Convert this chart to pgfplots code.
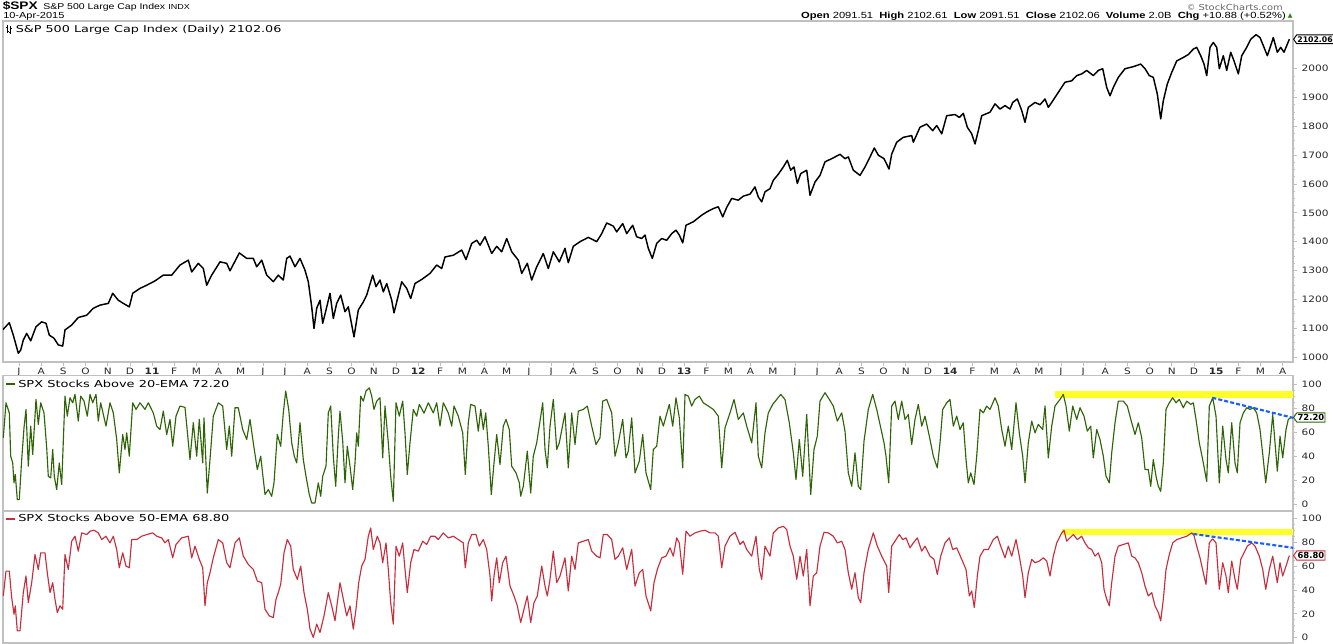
\documentclass[border=0pt]{standalone}
\usepackage{fontspec}
\setmainfont[FakeStretch=1.25]{Liberation Sans}
\newfontfamily\vf[FakeStretch=1.2]{DejaVu Sans}
\newfontfamily\lf[FakeStretch=1.35]{DejaVu Sans}
\newfontfamily\symf{DejaVu Sans}
\usepackage{pgfplots}
\pgfplotsset{compat=1.18}
\usetikzlibrary{shapes.symbols}
\definecolor{emagreen}{RGB}{45,100,5}
\definecolor{emared}{RGB}{200,45,60}
\definecolor{hilite}{RGB}{255,255,40}
\definecolor{trendblue}{RGB}{25,95,255}
\definecolor{frame}{RGB}{192,192,192}
\definecolor{lbl}{RGB}{40,40,40}
\pgfplotsset{panel/.style={
  scale only axis, width=967.5pt, xmin=3, xmax=1293,
  axis line style={frame, line width=0.9pt},
  ytick pos=right, yticklabel pos=right,
  tick align=outside,
  major tick length=3pt, minor tick length=1.6pt,
  every tick/.style={frame, line width=0.6pt},
  minor y tick num=3,
  yticklabel style={font=\vf\fontsize{6.6}{7}\selectfont, text=lbl, /pgf/number format/assume math mode=true, /pgf/number format/1000 sep={}},
  clip mode=individual,
  axis background/.style={fill=white},
}}
\tikzset{valbox/.style={signal, signal to=west, signal pointer angle=110, line width=0.7pt, fill=white, inner xsep=0.6pt, inner ysep=1.1pt, anchor=west, font=\symf\bfseries\fontsize{6.3}{7}\selectfont}}
\begin{document}
\begin{tikzpicture}
\path[use as bounding box] (0,0) rectangle (999.75pt,-482.25pt);
% ---------------- top panel ----------------
\begin{axis}[panel, at={(2.25pt,-15.75pt)}, anchor=north west, height=255.75pt,
  ymin=982.7, ymax=2165.4, ytick={1000,1100,...,2000},
  xtick pos=bottom,
  xtick={19,41.2,63.3,85.5,107.7,129.9,152.0,174.2,196.4,218.5,240.7,262.9,285.0,307.2,329.4,351.6,373.7,395.9,418.1,440.2,462.4,484.6,506.7,528.9,551.1,573.3,595.4,617.6,639.8,661.9,684.1,706.3,728.4,750.6,772.8,795.0,817.1,839.3,861.5,883.6,905.8,928.0,950.1,972.3,994.5,1016.7,1038.8,1061.0,1083.2,1105.3,1127.5,1149.7,1171.8,1194.0,1216.2,1238.4,1260.5,1282.7},
  xticklabels={J,A,S,O,N,D,\textbf{11},F,M,A,M,J,J,A,S,O,N,D,\textbf{12},F,M,A,M,J,J,A,S,O,N,D,\textbf{13},F,M,A,M,J,J,A,S,O,N,D,\textbf{14},F,M,A,M,J,J,A,S,O,N,D,\textbf{15},F,M,A},
  xticklabel style={font=\vf\fontsize{6.6}{7}\selectfont, text=lbl, inner sep=1pt, yshift=-0.5pt},
]
\addplot[black, line width=1.1pt, line join=round] coordinates {
(3,1095)(4,1099)(9.3,1119)(13.3,1076)(18.3,1013)(20.7,1024)(23.3,1059)(26.7,1082)(30.7,1056)(36,1105)(41.7,1122)(46,1117)(49.3,1076)(54,1065)(58.3,1042)(62.7,1038)(65,1094)(71.7,1111)(78.3,1137)(86.7,1145)(93.3,1169)(100,1180)(108.3,1186)(112.7,1221)(118.3,1197)(123.3,1186)(129.3,1174)(132.7,1221)(140,1238)(146.7,1249)(155,1264)(163.3,1284)(171.7,1284)(180,1319)(188.3,1336)(191.7,1295)(198.3,1325)(203.3,1307)(206.7,1249)(211.7,1284)(220,1330)(226.7,1325)(230,1299)(239.3,1361)(246.7,1342)(253.3,1342)(256.7,1313)(261.7,1336)(266.7,1284)(273.3,1261)(278.3,1284)(283.3,1267)(286.7,1342)(290,1350)(295,1313)(300,1342)(305,1301)(308.3,1261)(311.7,1174)(314,1099)(316.7,1169)(320,1197)(322.7,1117)(326,1163)(330,1221)(333.3,1134)(336.7,1186)(340.7,1215)(345,1157)(348.3,1174)(354,1070)(358.3,1163)(363.3,1191)(366.7,1215)(372.7,1284)(376,1244)(380,1267)(383.3,1226)(386.7,1255)(391.7,1197)(394,1153)(396.7,1191)(401.7,1261)(406.7,1238)(410.7,1203)(415,1255)(421.7,1269)(430,1290)(436.7,1319)(441.7,1307)(445,1347)(453.3,1353)(461.7,1371)(466,1338)(471.7,1394)(476.7,1405)(480,1388)(485,1417)(491.7,1359)(496.7,1384)(501.7,1365)(506.7,1411)(511.7,1365)(518.3,1336)(521.7,1290)(527.3,1325)(531.7,1267)(536.7,1313)(543.3,1359)(548.3,1307)(553.3,1365)(559.3,1330)(565,1377)(568.3,1327)(573.3,1384)(580,1400)(588.3,1415)(596.7,1400)(601.7,1428)(606.7,1465)(613.3,1454)(616.7,1434)(622.7,1463)(626.7,1428)(632.7,1457)(636.7,1417)(641.7,1411)(645,1423)(648.3,1377)(652.3,1342)(656.7,1394)(661.7,1411)(666.7,1405)(671.7,1428)(676,1440)(679.3,1423)(682.7,1396)(686,1457)(693.3,1469)(701.7,1492)(706.7,1503)(713.3,1515)(718.3,1521)(722.7,1486)(726.7,1519)(731.7,1550)(738.3,1544)(743.3,1558)(750,1565)(755,1590)(758.3,1555)(761.7,1538)(765,1573)(770,1584)(773.3,1613)(778.3,1634)(783.3,1659)(787.3,1682)(790.7,1648)(794,1659)(797.3,1602)(800.7,1636)(806.7,1648)(810,1561)(815,1607)(820,1630)(825,1677)(831.7,1688)(840,1703)(845,1688)(848.3,1694)(853.3,1648)(860,1630)(865,1659)(870,1694)(874.3,1725)(878.3,1700)(884,1688)(889,1652)(891.7,1704)(896.7,1745)(903.3,1762)(911.7,1768)(913.3,1745)(920,1797)(926.7,1808)(932.7,1785)(936.7,1803)(941.7,1774)(946.7,1837)(955,1841)(959.3,1831)(963.3,1845)(967.3,1797)(971.7,1774)(975,1739)(978.3,1785)(981.7,1837)(990,1849)(995,1878)(1000,1860)(1005,1872)(1010,1860)(1012.7,1883)(1017.3,1895)(1021.7,1855)(1025,1814)(1028.3,1866)(1035,1883)(1040,1875)(1045,1895)(1048.3,1866)(1051.7,1883)(1058.3,1918)(1065,1953)(1071.7,1958)(1076.7,1976)(1081.7,1982)(1086.7,1994)(1093.3,1976)(1098.3,1994)(1102.7,2000)(1106.7,1935)(1110,1906)(1113.3,1935)(1118.3,1970)(1125,2000)(1133.3,2007)(1140.7,2016)(1145,2000)(1149.3,1976)(1153.3,1970)(1157.3,1912)(1160.7,1826)(1163.3,1889)(1167.3,1947)(1171.7,1987)(1176.7,2027)(1183.3,2039)(1188.3,2049)(1193.3,2068)(1196.7,2074)(1200.7,2045)(1204,2016)(1206.7,1976)(1210,2074)(1213.3,2091)(1216.7,2074)(1219.3,2000)(1223.3,2045)(1226.7,1994)(1230.7,2057)(1234,2027)(1238.3,1982)(1241.7,2045)(1246.7,2074)(1250.7,2102)(1256,2118)(1260,2108)(1263.3,2080)(1267.3,2045)(1270.7,2080)(1273.3,2108)(1277.3,2057)(1280.7,2074)(1284,2057)(1289.3,2102.06)
};
\node[valbox, draw=black, font=\symf\bfseries\fontsize{5.8}{6}\selectfont] at (axis cs:1293,2102.06) {2102.06};
\end{axis}
% ---------------- middle panel ----------------
\begin{axis}[panel, at={(2.25pt,-281.625pt)}, anchor=north west, height=101.625pt,
  ymin=-5.6, ymax=107.1, ytick={0,20,...,100}, xtick=\empty]
\fill[hilite] (axis cs:1055,88.6) rectangle (axis cs:1293,94.2);
\addplot[emagreen, line width=0.85pt, line join=round] coordinates {
(3.3,55.3)(6,84.4)(9.3,76)(10.7,40)(12.7,34.4)(14,17.8)(15.3,24.7)(17.3,3.9)(19.3,3.9)(21.7,37.2)(24,63.6)(26,78.9)(28.3,31.7)(30.7,65)(32.7,41.4)(36,87.2)(38.3,66.4)(40.7,84.4)(44,76)(46.7,46.9)(48.3,23.3)(50.7,21.9)(52.7,45.6)(54.3,23.3)(56.7,12.2)(59.3,34.4)(61.7,16.4)(65,90)(67.3,73.3)(70,88.6)(72.7,84.4)(75,91.4)(78.3,69.2)(80.7,90)(84,85.8)(87.3,73.3)(90,91.4)(92.7,84.4)(96,91.4)(98.3,69.2)(100.7,84.4)(106,65)(110,84.4)(113.3,76)(116.7,53.9)(119.3,26.1)(122.7,58)(125,45.6)(126.7,59.4)(129.3,40)(132.7,84.4)(136,78.9)(140,84.4)(145,78.9)(148.3,84.4)(153.3,76)(156.7,65)(160,62.2)(163.3,77.5)(166.7,58)(170,70.6)(172.7,48.3)(176,73.3)(180,81.7)(185,80.6)(190,37.2)(193.3,67.8)(196.7,40)(199.3,70.6)(202.7,34.4)(204,71.9)(207.3,9.4)(210,37.2)(213.3,73.3)(218.3,84.4)(222.7,81.7)(226.7,45.6)(229.3,65)(231.7,40)(235,80.3)(238.3,80.3)(242.7,62.2)(246.7,53.9)(250,70.6)(253.3,51.1)(257.3,28.9)(260.7,40)(265,8.1)(268.3,12.2)(271.7,6.7)(274,17.8)(277.3,58)(280.7,48.3)(283.3,76)(285.7,94.2)(288.7,78.9)(291.7,51.1)(294.3,40)(296.7,34.4)(300,67.8)(303.3,37.2)(306,23.3)(309.3,8.1)(311.7,1.1)(315,1.1)(318.3,17.8)(320.7,6.7)(322.7,23.3)(326,31.7)(328.3,76)(330.7,81.7)(333.3,40)(335.7,15)(338.3,56.7)(340,77.5)(342.7,52.5)(345,17.8)(347.3,48.3)(350,31.7)(352.7,12.2)(355,34.4)(356.7,59.4)(358.3,48.3)(360.7,90)(363.3,85.8)(366,94.2)(369.3,96.9)(371.7,90)(374,78.9)(376.7,85.8)(380,88.6)(382.7,38.6)(385,81.7)(388.3,51.1)(390.7,23.3)(393.3,2.5)(396,84.4)(399.3,73.3)(402.7,85.8)(405,59.4)(407.3,24.7)(410,51.1)(413.3,78.9)(416.7,73.3)(419.3,83.1)(424,75.8)(428.3,84.4)(433.3,76)(436.7,84.4)(440,65)(443.3,84.4)(448.3,76)(451.7,65)(454,81.7)(458.3,73.3)(462.7,59.4)(465.3,24.7)(468.3,67.8)(470.7,83.1)(475,81.7)(478.3,60.8)(480.7,78.9)(483.3,62.2)(485.7,76)(488.3,48.3)(491.3,8.1)(494,34.4)(496.7,58)(500,33)(503.3,65)(506,70.6)(509.3,62.2)(511.7,31.7)(516,26.1)(519.3,17.8)(520.7,6.7)(523.3,15)(527.3,44.2)(530.7,9.4)(533.3,40)(536.7,51.1)(540,69.2)(542.7,84.4)(545,45.6)(547.3,30.3)(550,65)(553.3,87.2)(556.7,45.6)(559.3,51.1)(565,76)(568.3,30.3)(571.7,76)(575,49.7)(578.3,77.5)(583.3,78.9)(587.3,81.7)(591.7,65)(596,49.7)(600,55.3)(602.7,85.8)(606.7,87.2)(611.7,76)(615,40)(618.3,51.1)(622.7,70.6)(626,38.6)(628.3,44.2)(631.7,71.9)(635,26.1)(639.3,35.8)(642.7,58)(646,26.1)(650.7,12.2)(653.3,45.6)(656.7,48.3)(660,73.3)(663.3,65)(669.3,83.1)(672.7,65)(676,88.6)(679.3,71.9)(682.7,30.3)(685,91.4)(688.3,90)(691.7,81.7)(695,87.2)(699.3,90)(703.3,84.4)(708.3,81.7)(713.3,78.9)(718.3,73.3)(721.7,30.3)(725,63.6)(730,76)(734,87.2)(738.3,70.6)(743.3,76)(746.7,65)(751.7,51.1)(756,84.4)(758.3,40)(761.7,30.3)(765,59.4)(768.3,76)(772.7,83.1)(776.7,87.2)(780.7,91.4)(785,87.2)(789.3,67.8)(793.3,42.8)(796,20.6)(799.3,53.9)(802.7,23.3)(806.7,74.7)(810.7,8.1)(814,45.6)(817.3,56.7)(820,85.8)(825,92.8)(829.3,87.2)(833.3,81.7)(837.3,69.2)(841.7,76)(845,60.8)(848.3,26.1)(851.7,15)(855,42.8)(858.3,15)(860.7,12.2)(864,52.5)(868.3,78.9)(872.7,91.4)(876.7,78.9)(880,66.4)(884,51.1)(886,40)(888.7,17.8)(891.7,81.7)(895,85.8)(898.3,70.6)(901.7,85.8)(905,70.6)(908.3,74.7)(911.7,49.7)(915,70.6)(918.3,83.1)(921.7,65)(925,73.3)(929.3,56.7)(933.3,40)(937.3,30.3)(940,51.1)(942.7,78.9)(946.7,84.4)(950,87.2)(953.3,65)(956.7,73.3)(960,62.2)(963.3,67.8)(966,37.2)(968.3,17.8)(970.7,26.1)(974,16.4)(976.7,40)(980,78.9)(983.3,76)(986.7,81.7)(990,78.9)(995,88.6)(998.3,81.7)(1001.7,62.2)(1005,48.3)(1008.3,65)(1011.7,45.6)(1016,84.4)(1019.3,59.4)(1022.7,40)(1025,17.8)(1028.3,51.1)(1031.7,69.2)(1035,59.4)(1038.3,66.4)(1042.7,62.2)(1045,81.7)(1048.3,38.6)(1051.7,65)(1055,81.7)(1060,87.2)(1063.3,91.4)(1066,81.7)(1069.3,60.8)(1072.7,81.7)(1076.7,70.6)(1080,80.3)(1084,73.3)(1087.3,60.8)(1090.7,65)(1093.3,38.6)(1096.7,62.2)(1100,53.9)(1103.3,40)(1106,23.3)(1109.3,17.8)(1111.7,42.8)(1115,67.8)(1118.3,85.8)(1123.3,85.8)(1127.3,81.7)(1131.7,67.8)(1135,58)(1138.3,67.8)(1141.7,55.3)(1145,28.9)(1148.3,28.9)(1150.7,15)(1153.3,37.2)(1156,23.3)(1158.3,15)(1160.7,10.8)(1163.3,34.4)(1166,78.9)(1169.3,84.4)(1172.7,88.6)(1176,84.4)(1179.3,87.2)(1183.3,80.3)(1186.7,85.8)(1190.7,83.1)(1193.3,84.4)(1196,70.6)(1199.3,51.1)(1203.3,34.4)(1206.7,18.9)(1209.3,81.7)(1212.7,88.6)(1216,73.3)(1219.3,17.8)(1222.7,65)(1226,37.2)(1228.3,26.1)(1231.7,67.8)(1235,34.4)(1237.3,26.1)(1240,67.8)(1243.3,76)(1246.7,80.3)(1250,78.9)(1253.3,80.3)(1256.7,76)(1260,62.2)(1263.3,37.2)(1265.7,17.8)(1269.3,42.8)(1272.7,74.7)(1275,51.1)(1277.3,27.5)(1280,56.7)(1282.7,38.6)(1286,62.2)(1288.3,70.6)(1291,72.2)
};
\addplot[trendblue, line width=1.6pt, dash pattern=on 3pt off 1.6pt] coordinates {(1212.3,88.6)(1293,71.9)};
\node[valbox, draw=emagreen] at (axis cs:1293,72.2) {72.20};
\end{axis}
% ---------------- bottom panel ----------------
\begin{axis}[panel, at={(2.25pt,-383.25pt)}, anchor=north west, height=99pt,
  ymin=-4.4, ymax=106.1, ytick={0,20,...,100}, xtick=\empty]
\fill[hilite] (axis cs:1061.7,86.4) rectangle (axis cs:1293,91.4);
\addplot[emared, line width=0.85pt, line join=round] coordinates {
(3.3,35)(6,55.8)(9.3,55.8)(11.7,33.6)(14,19.7)(15.3,26.7)(17.3,5.8)(20,5.8)(23.3,37.8)(26,51.7)(28.3,29.4)(31.7,46.1)(35,69.7)(38.3,57.2)(40.7,71.1)(45,71.1)(47.3,54.4)(50,37.8)(52.7,46.1)(55,32.2)(57.3,21.1)(60,26.7)(62.7,23.9)(65,69.7)(68.3,57.2)(71.7,80.8)(75,85)(78.3,72.5)(81.7,87.8)(86.7,86.4)(90,89.2)(94,90)(98.3,87.8)(101.7,82.2)(106,85)(110,79.4)(113.3,85)(116.7,73.9)(119.3,58.6)(122.7,71.1)(126,60)(129.3,58.6)(131.7,82.2)(136.7,82.2)(141.7,85)(146.7,86.4)(152.7,87.8)(156.7,85)(161.7,83.6)(165,79.4)(168.3,82.2)(172.7,66.9)(176,78.1)(181.7,83.6)(188.3,85)(191.7,66.9)(195,76.7)(199.3,65.6)(202.7,58.6)(205,26.7)(207.3,46.1)(210,54.4)(213.3,66.9)(218.3,82.2)(222.7,79.4)(226.7,62.8)(230,58.6)(235,79.4)(239.3,83.6)(243.3,68.3)(248.3,61.4)(253.3,57.2)(257.3,47.5)(261.7,46.1)(265,23.9)(269.3,18.3)(273.3,16.9)(276,32.2)(278.3,37.8)(280.7,44.7)(284,71.1)(287.3,82.2)(290.7,76.7)(293.3,57.2)(297.3,48.9)(300.7,60)(304,37.8)(307.3,23.9)(310,7.2)(313.3,0.3)(316.7,11.4)(320,4.4)(324,18.3)(328.3,37.8)(331.7,26.7)(335,14.2)(337.3,29.4)(340,46.1)(342.7,35)(346.7,18.3)(350,26.7)(353.3,7.2)(356,23.9)(358.7,46.1)(361.7,60)(365,65.6)(368.3,85)(370.7,91.9)(373.3,73.9)(377.3,85)(380,79.4)(382.7,62.8)(386,79.4)(388.3,57.2)(390.7,29.4)(393.3,11.4)(396,76.7)(399.3,68.3)(402.7,79.4)(405,57.2)(407.3,37.8)(410.7,62.8)(414,73.9)(418.3,72.5)(422.7,80.8)(426.7,78.1)(430.7,85)(435,85)(438.3,82.2)(443.3,87.8)(448.3,83.6)(453.3,85)(458.3,82.2)(463.3,79.4)(465.3,58.6)(468.3,79.4)(471.7,86.4)(476,86.4)(479.3,76.7)(483.3,82.2)(486.7,73.9)(490,51.7)(491.7,30.8)(494,51.7)(496.7,66.9)(499.3,46.1)(502.7,62.8)(506,68.3)(510,43.3)(514,35)(517.3,26.7)(520.7,12.8)(524,23.9)(527.3,35)(530.7,12.8)(534,29.4)(537.3,35)(541.7,60)(545,43.3)(547.3,35)(550,48.9)(553.3,72.5)(556.7,46.1)(560,51.7)(565,66.9)(568.3,39.2)(571.7,68.3)(575,57.2)(578.3,79.4)(583.3,80.8)(588.3,82.2)(591.7,72.5)(596.7,68.3)(600,66.9)(603.3,86.4)(607.3,86.4)(611.7,82.2)(615,65.6)(618.3,68.3)(622.7,75.3)(626.7,57.2)(631.7,73.9)(635,43.3)(639.3,54.4)(642.7,57.2)(646,35)(650.7,22.5)(654,46.1)(657.3,57.2)(661.7,66.9)(666,68.3)(670,75.3)(673.3,68.3)(676.7,83.6)(679.3,79.4)(682.7,53.1)(686,89.2)(690,85)(695,87.8)(700,89.2)(705,90)(710,87.8)(715,87.8)(718.3,85)(721.7,58.6)(725,76.7)(730,85)(735,88.3)(740,78.1)(743.3,80.8)(746.7,73.9)(751.7,68.3)(756,85)(759.3,57.2)(761.7,48.9)(765,76.7)(770,68.3)(773.3,87.8)(778.3,91.9)(783.3,93.3)(786.7,90.6)(790,76.7)(793.3,68.3)(796.7,48.9)(800,68.3)(803.3,51.7)(806.7,73.9)(810,26.7)(813.3,51.7)(816.7,54.4)(820,76.7)(824,88.3)(828.3,87.8)(833.3,85)(837.3,79.4)(841.7,80.8)(845,73.9)(848.3,54.4)(851.7,40.6)(855,54.4)(858.3,33.6)(860.7,29.4)(864,54.4)(868.3,73.9)(873.3,87.8)(877.3,76.7)(881.7,68.3)(885,62.8)(886.7,60)(888.7,37.8)(891.7,76.7)(896,82.2)(899.3,86.4)(902.7,82.2)(906,83.6)(910,75.3)(913.3,79.4)(917.3,83.6)(921.7,72.5)(925,76.7)(930,68.3)(934,65.6)(937.3,53.1)(940.7,68.3)(945,79.4)(949.3,83.6)(952.7,73.9)(956.7,75.3)(961.7,65.6)(966,57.2)(969.3,35)(971.7,39.2)(974.3,25.3)(977.3,51.7)(980,68.3)(984,73.9)(988.3,73.9)(993.3,82.2)(997.3,85)(1000.7,76.7)(1005,66.9)(1008.3,76.7)(1011.7,68.3)(1016,82.2)(1019.3,68.3)(1022.7,51.7)(1025,33.6)(1028.3,54.4)(1031.7,65.6)(1035,62.8)(1039.3,64.2)(1043.3,66.9)(1046.7,64.2)(1050,51.7)(1053.3,68.3)(1056.7,79.4)(1061.7,87.8)(1064,90)(1066.7,80.8)(1070,83.6)(1073.3,86.4)(1077.3,82.2)(1081.7,85)(1085,79.4)(1088.3,75.3)(1091.7,73.9)(1095,68.3)(1098.3,71.1)(1101.7,62.8)(1104,40.6)(1106.7,32.2)(1109.3,26.7)(1111.7,46.1)(1115,68.3)(1118.3,76.7)(1123.3,78.1)(1128.3,79.4)(1131.7,68.3)(1135,66.9)(1138.3,62.8)(1141.7,54.4)(1145,43.3)(1148.3,35)(1151.7,37.8)(1155,26.7)(1158.3,21.1)(1160.7,14.2)(1163.3,32.2)(1166,57.2)(1169.3,69.7)(1172.7,79.4)(1176.7,82.2)(1181.7,83.6)(1186.7,85)(1191.7,87.8)(1194,85.6)(1196.7,76.7)(1200,66.9)(1203.3,54.4)(1206,44.7)(1209.3,79.4)(1212.7,82.8)(1216,79.4)(1219.3,40.6)(1222.7,62.8)(1226,51.7)(1228.3,37.8)(1231.7,64.2)(1235,48.9)(1237.3,40.6)(1240.7,65.6)(1244,71.1)(1247.3,76.7)(1251.7,79.4)(1255,76.7)(1259.3,68.3)(1262.7,57.2)(1265.7,40.6)(1269.3,57.2)(1272.7,68.3)(1275,57.2)(1277.3,46.1)(1280,62.8)(1282.7,51.7)(1286,60)(1289.3,68.8)
};
\addplot[trendblue, line width=1.6pt, dash pattern=on 3pt off 1.6pt] coordinates {(1193.3,86.9)(1293,75.3)};
\node[valbox, draw=emared] at (axis cs:1293,68.8) {68.80};
\end{axis}
% ---------------- header and legends (pixel coordinates) ----------------
\begin{scope}[x=0.75pt, y=-0.75pt]
\node[anchor=base west, inner sep=0pt, font=\bfseries\fontsize{8.2}{9}\selectfont] at (2.5,9.3) {\$SPX};
\node[anchor=base west, inner sep=0pt, font=\fontsize{6.3}{7}\selectfont] at (43,9.3) {S\&P 500 Large Cap Index};
\node[anchor=base west, inner sep=0pt, font=\fontsize{5.4}{6}\selectfont] at (168,9.3) {INDX};
\node[anchor=base west, inner sep=0pt, font=\fontsize{6.6}{7}\selectfont] at (3,18.3) {10-Apr-2015};
\node[anchor=base east, inner sep=0pt, text=black!60, font=\vf\fontsize{6.2}{7}\selectfont] at (1283,10.3) {\symf\char"00A9\vf{} StockCharts.com};
\node[anchor=base east, inner sep=0pt, font=\fontsize{6.7}{7}\selectfont] at (1286,18.3) {\textbf{Open} 2091.51\ \ \textbf{High} 2102.61\ \ \textbf{Low} 2091.51\ \ \textbf{Close} 2102.06\ \ \textbf{Volume} 2.0B\ \ \textbf{Chg} +10.88 (+0.52\%)};
\node[anchor=base west, inner sep=0pt, text=emagreen!80!green, font=\symf\fontsize{4.5}{5}\selectfont] at (1287.5,17.3) {▲};
% icon
\draw[black, line width=0.5pt] (7,25) -- (7,33) (5.5,27) -- (7,27) (7,31) -- (8.5,31) (10.5,26) -- (10.5,34) (9,32) -- (10.5,32) (10.5,28) -- (12,28);
\node[anchor=base west, inner sep=0pt, font=\lf\fontsize{7.1}{8}\selectfont] at (15.5,32.6) {S\&P 500 Large Cap Index (Daily) 2102.06};
% legends
\draw[emagreen, line width=1.5pt] (6,384.3) -- (15,384.3);
\node[anchor=base west, inner sep=0pt, font=\lf\fontsize{7.2}{8}\selectfont] at (18,387.5) {SPX Stocks Above 20-EMA 72.20};
\draw[emared, line width=1.5pt] (6,518.7) -- (15,518.7);
\node[anchor=base west, inner sep=0pt, font=\lf\fontsize{7.2}{8}\selectfont] at (18,521.9) {SPX Stocks Above 50-EMA 68.80};
\end{scope}
\end{tikzpicture}
\end{document}
